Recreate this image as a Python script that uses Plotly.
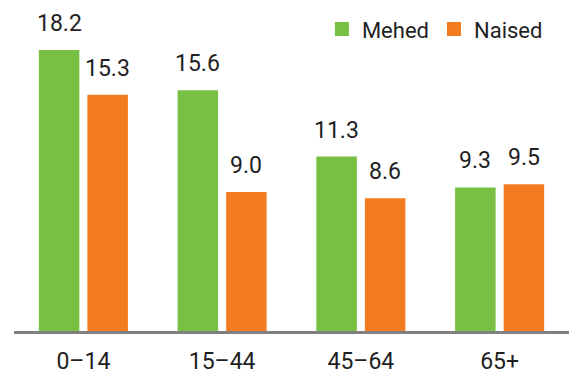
import plotly.graph_objects as go

categories = ["0–14", "15–44", "45–64", "65+"]
mehed = [18.2, 15.6, 11.3, 9.3]
naised = [15.3, 9.0, 8.6, 9.5]
series_names = ["Mehed", "Naised"]

GREEN = "#78C043"
ORANGE = "#F47C20"
FONT = "Roboto"
TXT = "#1f1f1f"
BW = 0.292
GAP = 0.058

fig = go.Figure()
fig.add_trace(go.Bar(x=categories, y=mehed, name=series_names[0], marker_color=GREEN,
                     width=BW, offset=-(BW + GAP / 2), marker_line_width=0, showlegend=False))
fig.add_trace(go.Bar(x=categories, y=naised, name=series_names[1], marker_color=ORANGE,
                     width=BW, offset=GAP / 2, marker_line_width=0, showlegend=False))
# legend entries with larger square swatches
for nm, col in zip(series_names, [GREEN, ORANGE]):
    fig.add_trace(go.Scatter(x=[None], y=[None], mode="markers", name=nm,
                             marker=dict(symbol="square", size=14, color=col)))

for c, v in zip(categories, mehed):
    fig.add_annotation(x=c, y=v, text=f"{v:.1f}", showarrow=False, xshift=-24.2,
                       yanchor="bottom", yshift=11, font=dict(family=FONT, size=23, color=TXT))
for c, v in zip(categories, naised):
    fig.add_annotation(x=c, y=v, text=f"{v:.1f}", showarrow=False, xshift=24.2,
                       yanchor="bottom", yshift=11, font=dict(family=FONT, size=23, color=TXT))

fig.update_layout(
    width=569, height=374,
    margin=dict(l=14, r=0, t=0, b=43),
    barmode="overlay",
    plot_bgcolor="white", paper_bgcolor="white",
    showlegend=True,
    legend=dict(orientation="h", x=0.962, xanchor="right", y=0.975, yanchor="top",
                font=dict(family=FONT, size=22, color=TXT), itemwidth=30, itemsizing="trace",
                traceorder="normal", bgcolor="rgba(0,0,0,0)"),
    xaxis=dict(range=[-0.5, 3.5], showline=True, linecolor="#808080", linewidth=3,
               showgrid=False, ticks="", tickfont=dict(family=FONT, size=23, color=TXT),
               ticklabelstandoff=7, automargin=False),
    yaxis=dict(range=[0, 21.44], visible=False, showgrid=False, zeroline=False,
               automargin=False),
)

fig.write_html("out.html")
